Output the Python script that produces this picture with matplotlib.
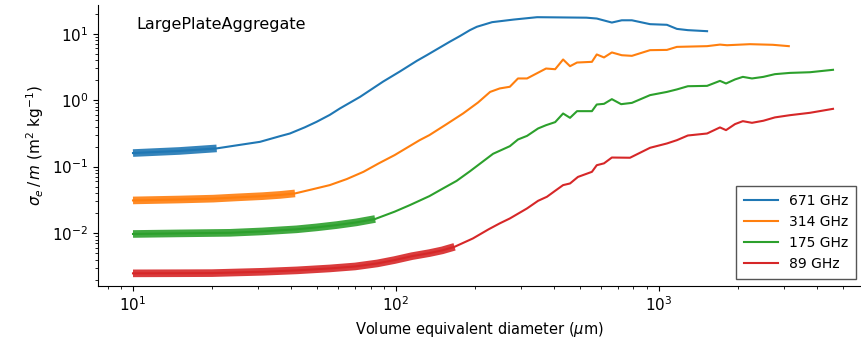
import numpy as np
import matplotlib
matplotlib.use("Agg")
import matplotlib.pyplot as plt

# ---- data ----
labels = ["671 GHz", "314 GHz", "175 GHz", "89 GHz"]
colors = ["#1f77b4", "#ff7f0e", "#2ca02c", "#d62728"]

d_671 = [10, 15, 20.8, 25, 30.4, 36.2, 39.5, 45, 49.9, 56, 61.2, 73, 89.3, 103.5, 120, 131, 160, 175, 191, 203, 232, 280, 344, 400, 459, 530, 580, 662, 722, 789, 925, 1072, 1170, 1288, 1524]
v_671 = [0.16, 0.172, 0.188, 0.21, 0.236, 0.287, 0.315, 0.39, 0.472, 0.60, 0.75, 1.12, 1.9, 2.7, 3.9, 4.75, 7.55, 9.2, 11.3, 12.7, 14.9, 16.3, 17.7, 17.6, 17.5, 17.4, 16.9, 14.7, 15.9, 15.9, 13.9, 13.6, 11.8, 11.3, 10.9]

d_314 = [10, 15, 20.2, 25, 31.2, 36.2, 41.3, 48, 56, 65, 75.2, 86, 98.8, 123, 134, 155, 180, 205, 228, 248, 271, 291, 315, 372, 403, 432, 459, 488, 556, 580, 618, 662, 722, 789, 925, 1072, 1170, 1524, 1706, 1815, 2219, 2711, 3117]
v_314 = [0.031, 0.032, 0.033, 0.0345, 0.036, 0.0375, 0.0395, 0.0455, 0.0527, 0.065, 0.0835, 0.112, 0.149, 0.25, 0.298, 0.43, 0.631, 0.92, 1.33, 1.5, 1.59, 2.12, 2.12, 2.99, 2.92, 4.09, 3.24, 3.68, 3.77, 4.87, 4.39, 5.22, 4.74, 4.64, 5.65, 5.7, 6.33, 6.49, 6.85, 6.7, 6.95, 6.8, 6.49]

d_175 = [10, 15, 23.4, 31, 41.9, 50, 59.5, 70.7, 83.3, 98.8, 113, 134, 151, 170, 191, 234, 271, 291, 315, 347, 372, 403, 432, 459, 488, 556, 580, 618, 662, 718, 789, 925, 1072, 1170, 1288, 1524, 1706, 1799, 1946, 2084, 2258, 2495, 2759, 3147, 3750, 4590]
v_175 = [0.0097, 0.0099, 0.0101, 0.0106, 0.0114, 0.0122, 0.0132, 0.0145, 0.0163, 0.021, 0.0264, 0.036, 0.047, 0.061, 0.085, 0.156, 0.203, 0.256, 0.29, 0.375, 0.42, 0.467, 0.63, 0.542, 0.683, 0.683, 0.86, 0.88, 1.035, 0.87, 0.91, 1.19, 1.33, 1.45, 1.62, 1.64, 1.95, 1.78, 2.05, 2.24, 2.12, 2.24, 2.46, 2.57, 2.63, 2.86]

d_89 = [10, 15, 20, 31.2, 42, 56, 70, 85, 98.8, 115, 134, 150, 167, 196, 225, 248, 271, 315, 347, 375, 403, 432, 459, 492, 556, 580, 618, 662, 776, 925, 1072, 1170, 1288, 1524, 1706, 1799, 1946, 2084, 2258, 2495, 2759, 3147, 3750, 4590]
v_89 = [0.00248, 0.00249, 0.0025, 0.00262, 0.00275, 0.00294, 0.00315, 0.0035, 0.00393, 0.0045, 0.0050, 0.0055, 0.00622, 0.0083, 0.0114, 0.014, 0.0166, 0.0235, 0.0306, 0.0352, 0.0433, 0.0527, 0.0558, 0.07, 0.0835, 0.105, 0.112, 0.137, 0.136, 0.192, 0.223, 0.25, 0.294, 0.315, 0.389, 0.354, 0.436, 0.483, 0.456, 0.49, 0.55, 0.594, 0.645, 0.74]

# upper diameter of the thick (small-particle) segment for each series
thick_limit = [20.8, 41.3, 83.3, 167]

series_d = [d_671, d_314, d_175, d_89]
series_v = [v_671, v_314, v_175, v_89]

# ---- figure ----
fig = plt.figure(figsize=(8.61, 3.56), dpi=100)
ax = fig.add_axes([98 / 861, (356 - 286) / 356, (861 - 98) / 861, (286 - 5) / 356])

for d, v, lab, c, lim in zip(series_d, series_v, labels, colors, thick_limit):
    d = np.asarray(d, float)
    v = np.asarray(v, float)
    m = d <= lim
    ax.plot(d[m], v[m], color=c, lw=5.5, alpha=0.9, solid_capstyle="butt")
    ax.plot(d, v, color=c, lw=1.5, label=lab)

ax.set_xscale("log")
ax.set_yscale("log")
ax.set_xlim(7.36, 5865)
ax.set_ylim(1.6e-3, 27)

for s in ("top", "right"):
    ax.spines[s].set_visible(False)

ax.tick_params(labelsize=11)
ax.set_xlabel(r"Volume equivalent diameter ($\mu$m)", fontsize=10.5)
ax.set_ylabel(r"$\sigma_e\,/\,m$ (m$^2$ kg$^{-1}$)", fontsize=11)

ax.text(0.05, 0.93, "LargePlateAggregate", transform=ax.transAxes,
        fontsize=11.5, va="center", ha="left")

leg = ax.legend(loc="lower right", fontsize=10, fancybox=False, framealpha=1,
                edgecolor="#555555", handlelength=2.4, borderpad=0.6,
                bbox_to_anchor=(1.003, 0.0))
leg.get_frame().set_linewidth(1.0)

fig.savefig("out.png", dpi=100)
